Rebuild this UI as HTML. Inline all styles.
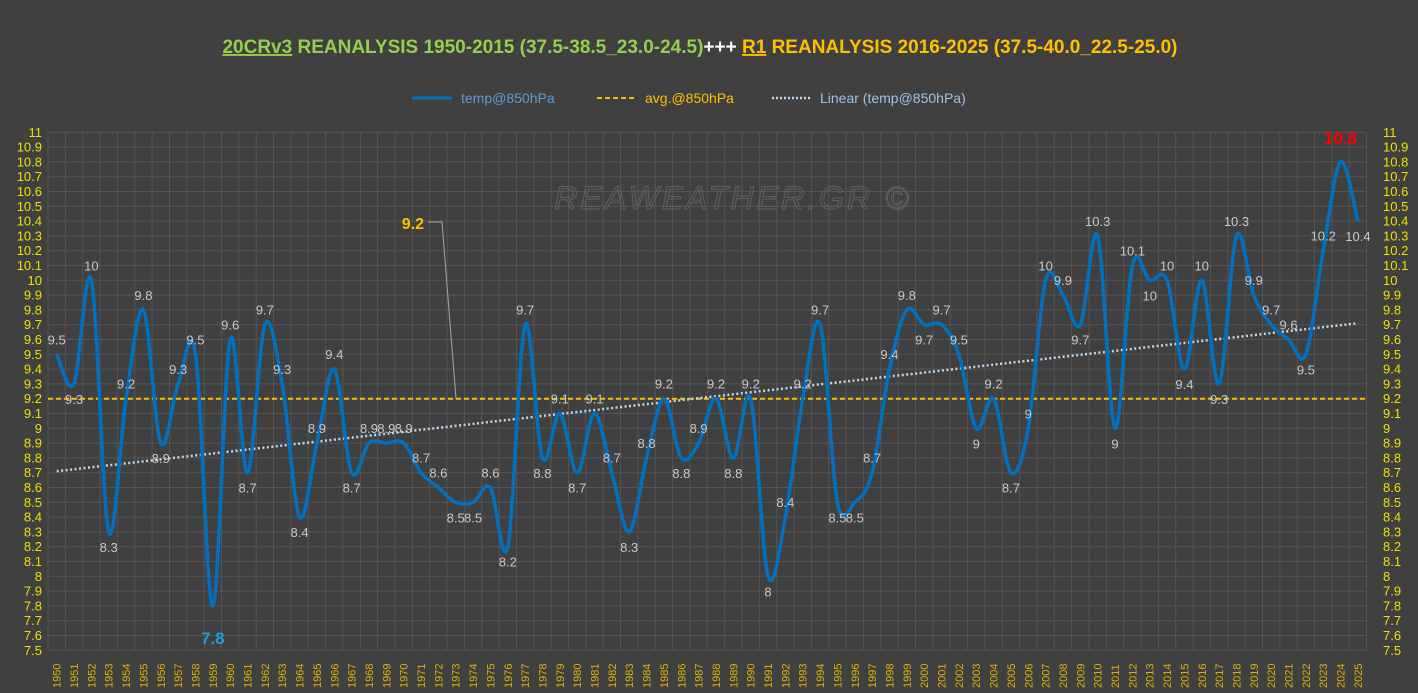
<!DOCTYPE html><html><head><meta charset="utf-8"><style>
body{margin:0;background:#404040;}
svg{display:block;font-family:"Liberation Sans",sans-serif;}
</style></head><body>
<svg id="s" width="1418" height="693" viewBox="0 0 1418 693">
<rect width="1418" height="693" fill="#404040"/>
<text x="700" y="53" text-anchor="middle" font-size="19" font-weight="bold"><tspan fill="#92d050" text-decoration="underline">20CRv3</tspan><tspan fill="#92d050"> REANALYSIS 1950-2015 (37.5-38.5_23.0-24.5)</tspan><tspan fill="#ffffff">+++ </tspan><tspan fill="#ffc000" text-decoration="underline">R1</tspan><tspan fill="#ffc000"> REANALYSIS 2016-2025 (37.5-40.0_22.5-25.0)</tspan></text>
<line x1="412" y1="98" x2="452" y2="98" stroke="#0070c0" stroke-width="3"/>
<text x="461" y="103" font-size="14" fill="#5b9bd5">temp@850hPa</text>
<line x1="597" y1="98" x2="637" y2="98" stroke="#ffc000" stroke-width="2" stroke-dasharray="5,3"/>
<text x="645" y="103" font-size="14" fill="#ffc000">avg.@850hPa</text>
<line x1="772" y1="98" x2="812" y2="98" stroke="#bdd7ee" stroke-width="2.5" stroke-dasharray="2,2"/>
<text x="820" y="103" font-size="14" fill="#9dc3e6">Linear (temp@850hPa)</text>
<g id="g"></g>
<text x="733" y="209" text-anchor="middle" font-size="32" font-style="italic" fill="none" stroke="#606060" stroke-width="1" letter-spacing="3">REAWEATHER.GR ©</text>
</svg>
<script>
const d=[9.5,9.3,10,8.3,9.2,9.8,8.9,9.3,9.5,7.8,9.6,8.7,9.7,9.3,8.4,8.9,9.4,8.7,8.9,8.9,8.9,8.7,8.6,8.5,8.5,8.6,8.2,9.7,8.8,9.1,8.7,9.1,8.7,8.3,8.8,9.2,8.8,8.9,9.2,8.8,9.2,8.0,8.4,9.2,9.7,8.5,8.5,8.7,9.4,9.8,9.7,9.7,9.5,9.0,9.2,8.7,9.0,10,9.9,9.7,10.3,9.0,10.1,10,10,9.4,10,9.3,10.3,9.9,9.7,9.6,9.5,10.2,10.8,10.4];
const L=48,W=17.35,T=132.3,S=148;
const X=i=>L+W*(i+0.5),Y=v=>T+(11-v)*S;
let h='';
for(let i=0;i<=76;i++){const x=L+W*i;h+=`<line x1="${x}" y1="${T}" x2="${x}" y2="${Y(7.5)}" stroke="#555555" stroke-width="1"/>`;}
for(let k=0;k<=35;k++){const v=11-k/10,y=Y(v);const t=(Math.round(v*10)/10).toString();
h+=`<line x1="${L}" y1="${y}" x2="${L+W*76}" y2="${y}" stroke="#555555" stroke-width="1"/>`;
h+=`<text x="42" y="${y+4.5}" text-anchor="end" font-size="13" fill="#f0e000">${t}</text>`;
h+=`<text x="1383" y="${y+4.5}" font-size="13" fill="#f0e000">${t}</text>`;}
for(let i=0;i<76;i++){h+=`<text transform="translate(${X(i)+4},688) rotate(-90)" font-size="11" fill="#e0b000">${1950+i}</text>`;}
h+=`<line x1="${L}" y1="${Y(9.2)}" x2="${L+W*76}" y2="${Y(9.2)}" stroke="#ffc000" stroke-width="2" stroke-dasharray="5,3"/>`;
h+=`<polyline points="428,222 442,222 456,${Y(9.2)}" fill="none" stroke="#a6a6a6" stroke-width="1"/>`;
h+=`<text x="424" y="229" text-anchor="end" font-size="16" font-weight="bold" fill="#ffc000">9.2</text>`;
const P=d.map((v,i)=>[X(i),Y(v)]);let p=`M${P[0][0]},${P[0][1]}`;
for(let i=0;i<P.length-1;i++){const a=P[Math.max(i-1,0)],b=P[i],c=P[i+1],e=P[Math.min(i+2,P.length-1)];
p+=`C${b[0]+(c[0]-a[0])/6},${b[1]+(c[1]-a[1])/6} ${c[0]-(e[0]-b[0])/6},${c[1]-(e[1]-b[1])/6} ${c[0]},${c[1]}`;}
h+=`<line x1="${X(0)}" y1="${Y(8.71)}" x2="${X(75)}" y2="${Y(9.71)}" stroke="#bdd7ee" stroke-width="2.5" stroke-dasharray="2,2.5"/>`;
h+=`<path d="${p}" fill="none" stroke="#0070c0" stroke-width="3.5"/>`;
for(let i=0;i<76;i++){const v=d[i];const pr=d[i-1]??v,nx=d[i+1]??v;
let up=!(v<pr&&v<=nx);if(v<=pr&&v<nx)up=false;
let y=up?Y(v)-10:Y(v)+20;let txt=v.toString();
if(i==9){h+=`<text x="${X(i)}" y="${Y(v)+38}" text-anchor="middle" font-size="17" font-weight="bold" fill="#1e9ad6">7.8</text>`;continue;}
if(i==74){h+=`<text x="${X(i)}" y="${Y(v)-18}" text-anchor="middle" font-size="17" font-weight="bold" fill="#ff0000">10.8</text>`;continue;}
h+=`<text x="${X(i)}" y="${y}" text-anchor="middle" font-size="13" fill="#c8c8c8">${txt}</text>`;}
document.getElementById('g').innerHTML=h;
</script>
</body></html>
